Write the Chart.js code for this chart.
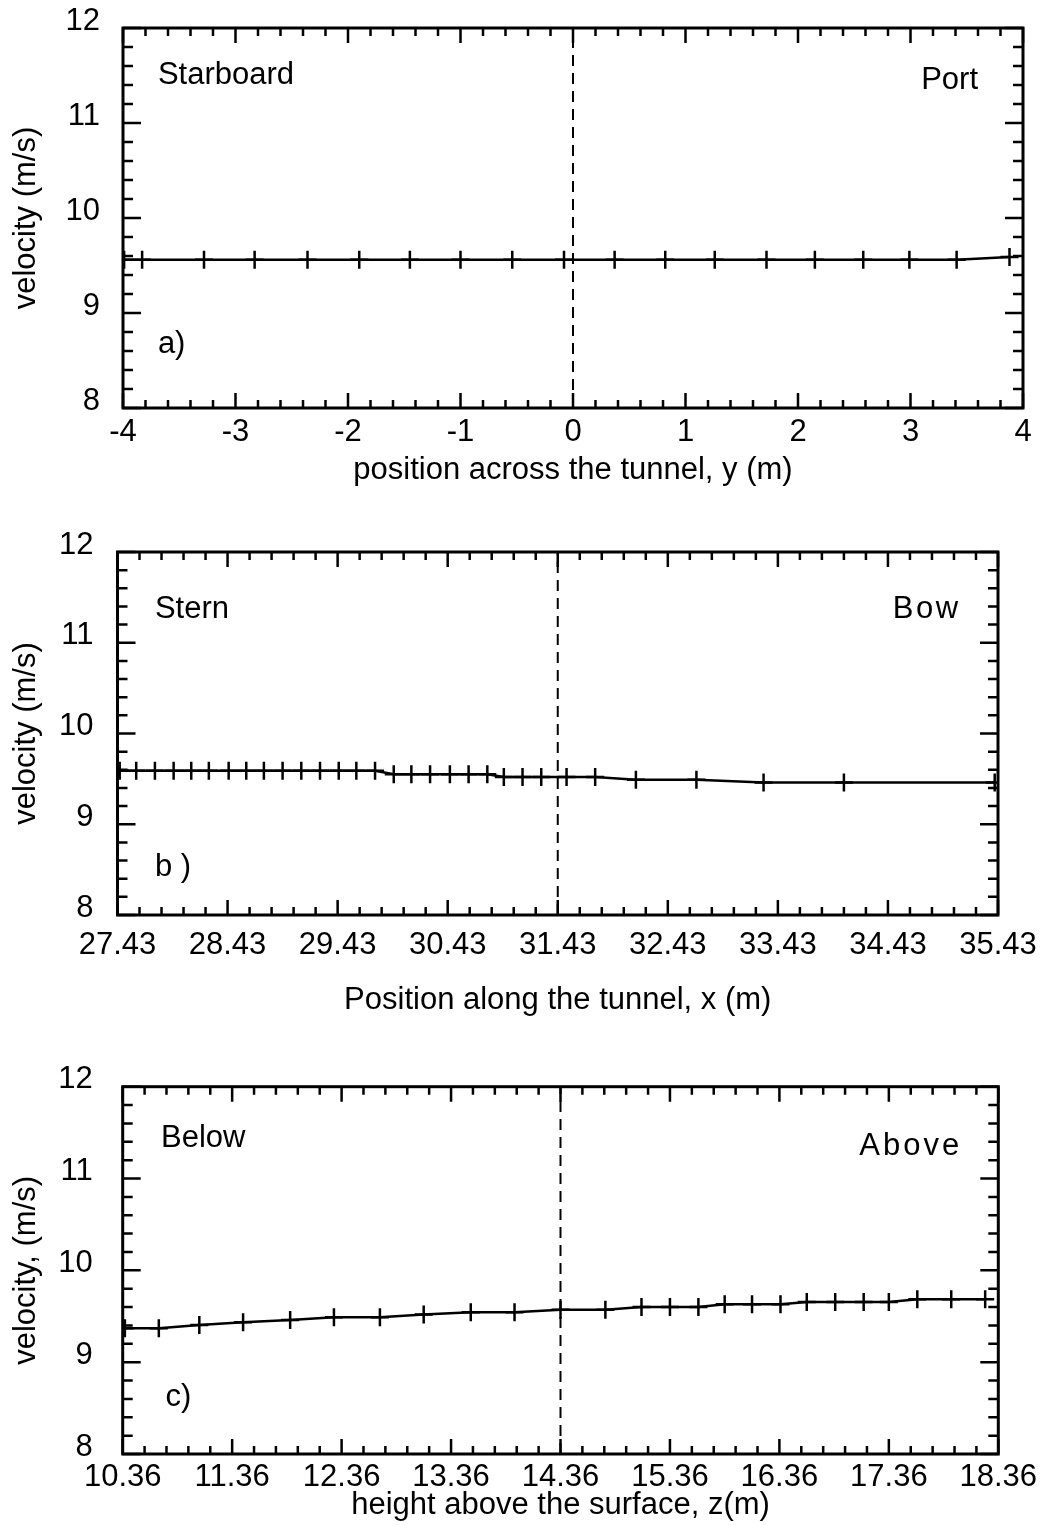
<!DOCTYPE html>
<html>
<head>
<meta charset="utf-8">
<script src="https://cdn.jsdelivr.net/npm/chart.js@4/dist/chart.umd.min.js"></script>
<style>
  body { margin: 0; background: #fff; width: 1045px; height: 1526px; position: relative; overflow: hidden; }
  canvas { position: absolute; left: 0; }
</style>
</head>
<body>
<canvas id="chart_a" width="1045" height="500" style="top:0px"></canvas>
<canvas id="chart_b" width="1045" height="500" style="top:530px"></canvas>
<canvas id="chart_c" width="1045" height="466" style="top:1060px"></canvas>
<script>
// a) across the tunnel
const pos_a = [-3.99, -3.83, -3.28, -2.83, -2.36, -1.90, -1.45, -1.00, -0.54, -0.08, 0.37, 0.82, 1.26, 1.72, 2.15, 2.58, 2.99, 3.41, 3.88];
const vel_a = [9.56, 9.56, 9.56, 9.56, 9.56, 9.56, 9.56, 9.56, 9.56, 9.56, 9.56, 9.56, 9.56, 9.56, 9.56, 9.56, 9.56, 9.56, 9.59];
const xticks_a = [-4, -3, -2, -1, 0, 1, 2, 3, 4];
const center_a = 0;

// b) along the tunnel
const pos_b = [27.45, 27.60, 27.77, 27.94, 28.10, 28.26, 28.44, 28.60, 28.76, 28.93, 29.10, 29.27, 29.44, 29.60, 29.77,
               29.94, 30.10, 30.27, 30.45, 30.62, 30.79, 30.94, 31.11, 31.28, 31.51, 31.77, 32.14, 32.69, 33.30, 34.03, 35.40];
const vel_b = [9.59, 9.59, 9.59, 9.59, 9.59, 9.59, 9.59, 9.59, 9.59, 9.59, 9.59, 9.59, 9.59, 9.59, 9.59,
               9.55, 9.55, 9.55, 9.55, 9.55, 9.55, 9.52, 9.52, 9.52, 9.52, 9.52, 9.49, 9.49, 9.46, 9.46, 9.46];
const xticks_b = [27.43, 28.43, 29.43, 30.43, 31.43, 32.43, 33.43, 34.43, 35.43];
const center_b = 31.43;

// c) height above the surface
const pos_c = [10.38, 10.69, 11.06, 11.46, 11.89, 12.29, 12.71, 13.11, 13.54, 13.94, 14.36, 14.77, 15.10,
               15.36, 15.62, 15.86, 16.11, 16.37, 16.61, 16.87, 17.13, 17.36, 17.62, 17.93, 18.24];
const vel_c = [9.37, 9.37, 9.405, 9.435, 9.46, 9.49, 9.49, 9.52, 9.545, 9.545, 9.57, 9.57, 9.60,
               9.60, 9.60, 9.63, 9.63, 9.63, 9.655, 9.655, 9.655, 9.655, 9.685, 9.685, 9.685];
const xticks_c = [10.36, 11.36, 12.36, 13.36, 14.36, 15.36, 16.36, 17.36, 18.36];
const center_c = 14.36;

const yticks = [8, 9, 10, 11, 12];

const FONT = "'Liberation Sans', Arial, Helvetica, sans-serif";
const FSIZE = 31;
Chart.defaults.font.family = FONT;
Chart.defaults.font.size = FSIZE;
Chart.defaults.color = '#000';

// frame with inward ticks on the four sides + the little text notes
const framePlugin = {
  id: 'frame',
  afterDatasetsDraw(chart, args, opts) {
    const ctx = chart.ctx;
    const a = chart.chartArea;
    const xs = chart.scales.x;
    const ys = chart.scales.y;
    ctx.save();
    ctx.strokeStyle = '#000';
    ctx.lineWidth = 2.5;
    ctx.beginPath();
    for (let i = 0; i <= 40; i++) {
      const px = xs.getPixelForValue(xs.min + i * 0.2);
      const len = (i % 5 == 0) ? 15 : 8;
      ctx.moveTo(px, a.bottom); ctx.lineTo(px, a.bottom - len);
      ctx.moveTo(px, a.top); ctx.lineTo(px, a.top + len);
    }
    for (let i = 0; i <= 20; i++) {
      const py = ys.getPixelForValue(8 + i * 0.2);
      const len = (i % 5 == 0) ? 18 : 10;
      ctx.moveTo(a.left, py); ctx.lineTo(a.left + len, py);
      ctx.moveTo(a.right, py); ctx.lineTo(a.right - len, py);
    }
    ctx.stroke();
    ctx.lineWidth = 3;
    ctx.strokeRect(a.left, a.top, a.right - a.left, a.bottom - a.top);

    ctx.fillStyle = '#000';
    ctx.font = FSIZE + 'px ' + FONT;
    ctx.textBaseline = 'middle';
    opts.notes.forEach(function(n) {
      ctx.letterSpacing = (n.spacing || 0) + 'px';
      ctx.textAlign = n.align;
      ctx.fillText(n.text, xs.getPixelForValue(n.x), ys.getPixelForValue(n.y));
    });
    ctx.restore();
  }
};

function makeChart(id, pos, vel, xticks, center, g) {
  const curve = pos.map(function(p, i) { return {x: p, y: vel[i]}; });
  return new Chart(document.getElementById(id), {
    type: 'line',
    data: {
      datasets: [{
        data: curve,
        borderColor: '#000',
        borderWidth: 2.5,
        pointStyle: 'cross',
        pointRadius: 9,
        pointBorderWidth: 2.5,
        pointBorderColor: '#000',
        tension: 0,
        fill: false
      }, {
        data: [{x: center, y: 8}, {x: center, y: 12}],
        borderColor: '#000',
        borderWidth: 2,
        borderDash: [11, 7],
        pointRadius: 0,
        fill: false
      }]
    },
    plugins: [framePlugin],
    options: {
      responsive: false,
      animation: false,
      layout: { padding: { top: g.top, right: g.right, left: 0, bottom: 0 } },
      plugins: {
        legend: { display: false },
        tooltip: { enabled: false },
        frame: { notes: g.notes }
      },
      scales: {
        x: {
          type: 'linear',
          min: xticks[0],
          max: xticks[xticks.length - 1],
          afterBuildTicks: function(s) { s.ticks = xticks.map(function(v) { return {value: v}; }); },
          afterFit: function(s) { s.height = g.xh; s.paddingLeft = 0; s.paddingRight = 0; },
          grid: { display: false, drawTicks: false },
          border: { display: false },
          ticks: {
            padding: g.xpad,
            maxRotation: 0,
            autoSkip: false,
            callback: function(v) { return g.dec ? v.toFixed(2) : String(v); }
          },
          title: { display: true, text: g.xtitle, font: { size: FSIZE, lineHeight: 1.2 }, padding: { top: 0, bottom: g.tpad } }
        },
        y: {
          min: 8,
          max: 12,
          afterBuildTicks: function(s) { s.ticks = yticks.map(function(v) { return {value: v}; }); },
          afterFit: function(s) { s.width = g.yw; s.paddingTop = 0; s.paddingBottom = 0; },
          grid: { display: false, drawTicks: false },
          border: { display: false },
          ticks: { padding: g.ypad, labelOffset: -7 },
          title: { display: true, text: g.ytitle, font: { size: FSIZE, lineHeight: 1.2 }, padding: { top: 8, bottom: 0 } }
        }
      }
    }
  });
}

makeChart('chart_a', pos_a, vel_a, xticks_a, center_a, {
  top: 28, right: 22, yw: 123, xh: 92, xpad: 5.4, tpad: 11.4, ypad: 23, dec: false,
  xtitle: 'position across the tunnel, y (m)', ytitle: 'velocity (m/s)',
  notes: [
    {text: 'Starboard', x: -3.69, y: 11.5, align: 'left'},
    {text: 'Port', x: 3.6, y: 11.45, align: 'right'},
    {text: 'a)', x: -3.69, y: 8.67, align: 'left'}
  ]
});

makeChart('chart_b', pos_b, vel_b, xticks_b, center_b, {
  top: 22, right: 47, yw: 117.5, xh: 115, xpad: 11.4, tpad: 11.4, ypad: 24, dec: true,
  xtitle: 'Position along the tunnel, x (m)', ytitle: 'velocity (m/s)',
  notes: [
    {text: 'Stern', x: 27.77, y: 11.37, align: 'left'},
    {text: 'Bow', x: 35.09, y: 11.37, align: 'right', spacing: 2.5},
    {text: 'b )', x: 27.77, y: 8.52, align: 'left'}
  ]
});

makeChart('chart_c', pos_c, vel_c, xticks_c, center_c, {
  top: 26.7, right: 46.7, yw: 122.7, xh: 72, xpad: 4.4, tpad: 2.4, ypad: 30, dec: true,
  xtitle: 'height above the surface, z(m)', ytitle: 'velocity, (m/s)',
  notes: [
    {text: 'Below', x: 10.71, y: 11.44, align: 'left'},
    {text: 'Above', x: 18.03, y: 11.35, align: 'right', spacing: 3},
    {text: 'c)', x: 10.75, y: 8.62, align: 'left'}
  ]
});
</script>
</body>
</html>
